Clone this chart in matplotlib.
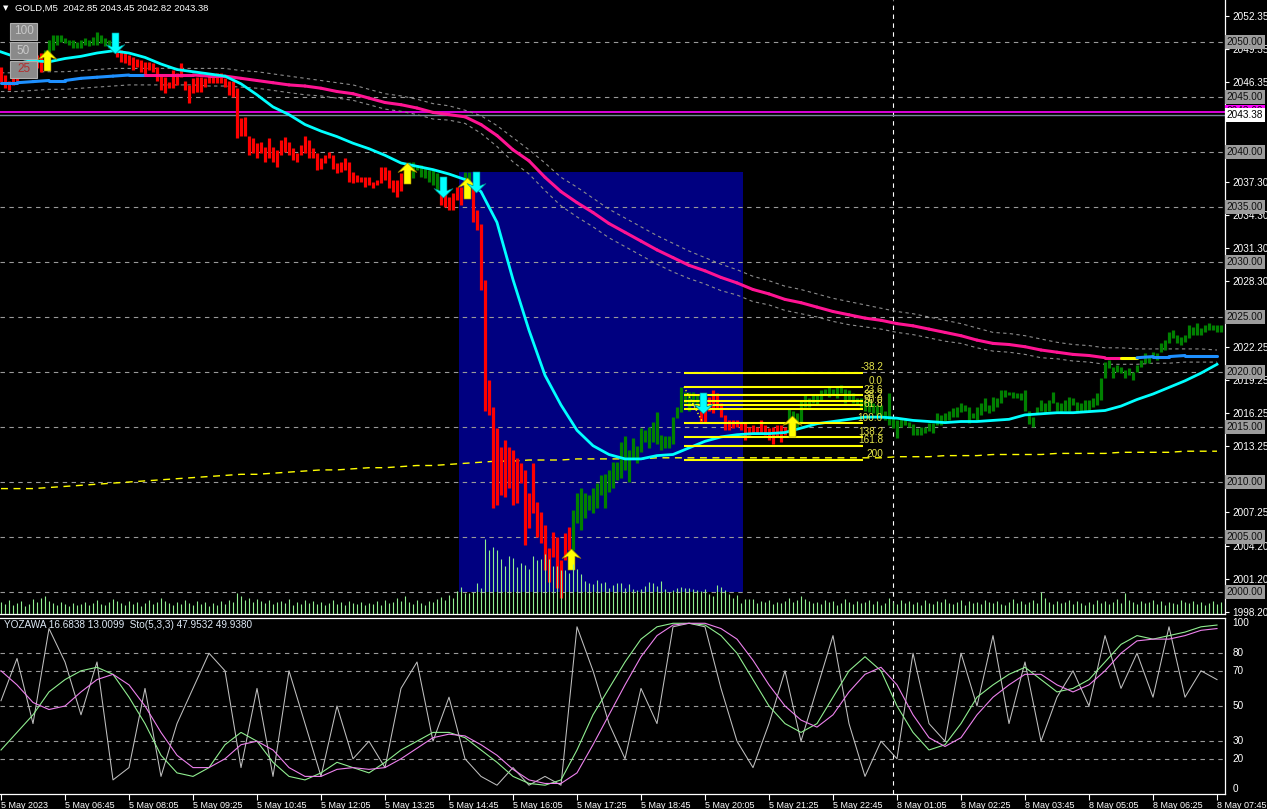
import numpy as np
import matplotlib.pyplot as plt
from matplotlib.path import Path
from matplotlib.patches import Rectangle
from matplotlib.collections import LineCollection
import matplotlib.transforms as mtransforms

plt.rcParams['font.family'] = ['Liberation Sans', 'DejaVu Sans']

W, H = 1267, 809

# ---------------- data ----------------
# drawn extent (top / bottom) of every M5 bar
bar_hi = [
    2047.7, 2047.0, 2046.5, 2047.5, 2047.9, 2047.6, 2048.4, 2048.2, 2048.4, 2048.8,
    2049.0, 2049.3, 2050.2, 2050.6, 2050.6, 2050.6, 2050.4, 2050.2, 2050.2, 2050.0,
    2050.2, 2050.4, 2050.2, 2050.5, 2050.9, 2050.6, 2050.4, 2050.2, 2050.0, 2049.5,
    2049.3, 2049.1, 2048.8, 2048.6, 2048.5, 2048.4, 2048.2, 2048.2, 2048.1, 2047.7,
    2047.0, 2046.8, 2046.4, 2047.5, 2047.2, 2048.1, 2046.5, 2046.1, 2046.7, 2046.8,
    2046.8, 2046.7, 2047.0, 2047.0, 2047.2, 2047.2, 2046.7, 2046.5, 2046.5, 2045.8,
    2043.1, 2043.2, 2041.5, 2041.3, 2040.8, 2040.9, 2040.5, 2041.3, 2040.5, 2040.2,
    2041.1, 2041.4, 2040.9, 2040.4, 2039.9, 2040.6, 2041.5, 2041.1, 2040.4, 2039.9,
    2039.5, 2039.7, 2040.0, 2039.7, 2039.0, 2039.1, 2039.5, 2039.1, 2038.2, 2037.9,
    2037.7, 2037.7, 2037.7, 2037.3, 2037.5, 2038.6, 2038.6, 2038.4, 2037.5, 2037.5,
    2038.1, 2038.6, 2039.1, 2039.1, 2038.8, 2038.8, 2038.6, 2038.4, 2038.4, 2038.1,
    2036.3, 2036.7, 2035.9, 2036.3, 2036.8, 2036.8, 2038.2, 2038.2, 2037.0, 2034.7,
    2033.5, 2028.4, 2019.3, 2016.8, 2014.9, 2013.2, 2013.8, 2013.2, 2012.9, 2012.2,
    2011.7, 2011.1, 2009.0, 2011.7, 2008.2, 2007.3, 2006.1, 2004.0, 2005.5, 2005.0,
    2002.9, 2005.4, 2005.9, 2007.5, 2009.0, 2009.5, 2009.0, 2008.8, 2009.5, 2009.9,
    2010.6, 2010.7, 2011.1, 2011.8, 2011.8, 2013.6, 2014.2, 2012.9, 2014.0, 2013.3,
    2014.9, 2014.7, 2015.0, 2015.5, 2016.4, 2014.3, 2014.2, 2014.2, 2015.9, 2016.8,
    2018.6, 2018.2, 2018.2, 2018.2, 2017.9, 2016.5, 2017.3, 2017.7, 2018.4, 2018.1,
    2017.2, 2016.1, 2015.6, 2015.6, 2015.6, 2015.5, 2015.5, 2015.0, 2015.2, 2015.0,
    2015.6, 2015.2, 2014.9, 2015.0, 2015.2, 2015.2, 2015.0, 2016.7, 2016.5, 2016.3,
    2017.5, 2017.9, 2017.6, 2017.9, 2017.9, 2018.4, 2018.5, 2018.6, 2018.5, 2018.6,
    2018.8, 2018.5, 2018.4, 2018.1, 2017.6, 2017.6, 2017.5, 2017.5, 2017.2, 2017.0,
    2017.0, 2016.5, 2018.1, 2015.9, 2015.6, 2015.7, 2015.8, 2015.5, 2015.3, 2014.9,
    2015.0, 2015.0, 2015.4, 2015.4, 2016.3, 2016.1, 2016.3, 2016.5, 2016.7, 2016.8,
    2017.2, 2017.0, 2016.8, 2016.3, 2016.8, 2017.2, 2017.6, 2017.0, 2017.7, 2017.6,
    2018.4, 2018.4, 2018.2, 2018.2, 2018.1, 2018.1, 2018.4, 2016.5, 2015.9, 2016.8,
    2017.5, 2017.2, 2017.5, 2018.2, 2017.3, 2017.2, 2017.5, 2017.7, 2017.6, 2017.3,
    2017.2, 2017.5, 2017.5, 2017.6, 2018.1, 2019.5, 2020.9, 2021.1, 2020.5, 2020.6,
    2020.5, 2020.2, 2020.4, 2020.0, 2020.6, 2021.1, 2021.7, 2021.5, 2021.8, 2021.7,
    2022.6, 2022.9, 2023.6, 2023.8, 2023.4, 2023.2, 2023.4, 2024.3, 2024.1, 2024.5,
    2024.0, 2024.3, 2024.5, 2024.3, 2024.3, 2024.3,
]
bar_lo = [
    2046.4, 2045.8, 2045.6, 2046.1, 2046.5, 2046.7, 2047.0, 2047.3, 2047.5, 2047.6,
    2047.3, 2048.2, 2049.0, 2049.3, 2049.7, 2050.0, 2049.9, 2049.7, 2049.5, 2049.5,
    2049.5, 2049.7, 2049.6, 2049.7, 2049.7, 2049.9, 2049.6, 2049.5, 2049.3, 2048.6,
    2048.2, 2048.1, 2047.9, 2047.5, 2047.7, 2047.3, 2047.0, 2047.5, 2047.3, 2046.5,
    2045.6, 2045.4, 2045.8, 2045.8, 2046.1, 2046.8, 2045.6, 2044.5, 2045.4, 2045.5,
    2045.5, 2045.9, 2046.3, 2046.3, 2046.3, 2046.3, 2045.9, 2045.2, 2045.0, 2041.3,
    2041.5, 2041.5, 2039.7, 2039.9, 2039.5, 2039.9, 2039.1, 2039.5, 2039.1, 2038.6,
    2039.7, 2040.0, 2039.7, 2039.3, 2039.1, 2039.7, 2039.9, 2039.5, 2039.5, 2038.4,
    2038.5, 2039.0, 2039.5, 2038.5, 2038.1, 2038.2, 2038.4, 2037.3, 2037.2, 2037.3,
    2037.3, 2036.8, 2037.0, 2036.7, 2037.0, 2037.2, 2037.5, 2036.7, 2036.4, 2035.9,
    2036.5, 2037.2, 2038.4, 2037.6, 2038.4, 2037.7, 2037.6, 2037.3, 2037.0, 2036.5,
    2035.2, 2035.0, 2034.7, 2034.7, 2035.6, 2035.2, 2036.1, 2036.5, 2033.6, 2032.9,
    2027.5, 2016.5, 2016.1, 2007.6, 2007.9, 2008.8, 2008.6, 2009.5, 2007.9, 2008.1,
    2009.9, 2004.3, 2005.8, 2007.2, 2005.0, 2004.5, 2002.0, 2000.9, 2003.2, 2000.4,
    1999.5, 2002.9, 2003.8, 2003.8, 2006.3, 2005.6, 2006.7, 2007.5, 2007.2, 2007.6,
    2008.8, 2007.6, 2009.1, 2009.5, 2010.2, 2010.4, 2011.1, 2010.0, 2012.2, 2011.7,
    2012.7, 2013.6, 2013.1, 2013.6, 2013.5, 2012.9, 2013.1, 2013.1, 2013.5, 2015.8,
    2016.4, 2017.2, 2016.5, 2017.2, 2016.7, 2015.4, 2015.4, 2016.5, 2016.3, 2016.7,
    2015.9, 2014.7, 2014.7, 2014.9, 2015.0, 2014.7, 2013.8, 2014.3, 2014.5, 2014.4,
    2014.5, 2014.3, 2013.8, 2013.5, 2014.1, 2013.6, 2014.3, 2014.5, 2015.0, 2015.0,
    2015.4, 2016.8, 2016.8, 2017.2, 2017.0, 2017.5, 2017.9, 2017.7, 2017.9, 2017.6,
    2018.1, 2017.2, 2017.5, 2017.2, 2017.0, 2016.8, 2016.5, 2016.4, 2016.3, 2016.1,
    2015.8, 2015.6, 2015.2, 2014.9, 2014.0, 2015.0, 2015.2, 2015.0, 2014.3, 2014.3,
    2014.3, 2014.5, 2014.6, 2014.5, 2015.2, 2015.2, 2015.4, 2015.6, 2015.9, 2015.9,
    2016.4, 2016.5, 2015.4, 2015.8, 2015.6, 2016.1, 2016.5, 2016.3, 2016.5, 2016.8,
    2017.2, 2017.7, 2017.9, 2017.6, 2017.6, 2017.5, 2016.5, 2015.3, 2015.0, 2016.3,
    2016.5, 2016.4, 2016.5, 2017.2, 2016.5, 2016.4, 2016.5, 2016.5, 2017.0, 2016.4,
    2016.4, 2016.5, 2016.5, 2016.8, 2017.0, 2017.5, 2019.5, 2020.4, 2019.5, 2020.0,
    2019.9, 2019.5, 2019.7, 2019.3, 2020.0, 2020.5, 2020.8, 2020.8, 2021.3, 2021.1,
    2021.8, 2022.0, 2022.6, 2023.1, 2022.6, 2022.5, 2022.7, 2023.1, 2023.4, 2023.4,
    2023.4, 2023.6, 2023.8, 2023.8, 2023.6, 2023.6,
]
# trend state of the bar colouring indicator (u = up, d = down)
trend = 'd' * 11 + 'u' * 18 + 'd' * 73 + 'u' * 8 + 'd' * 6 + 'u' * 2 + 'd' * 25 + 'u' * 32 + 'd' * 22 + 'u' * 109

volume = [
    12, 10, 14, 9, 11, 13, 8, 10, 15, 12, 16, 18, 13, 11, 9, 12, 10, 8, 11, 9,
    10, 12, 9, 11, 14, 10, 9, 12, 15, 13, 11, 9, 13, 10, 12, 8, 11, 14, 10, 12,
    16, 13, 11, 9, 12, 10, 14, 11, 9, 13, 10, 12, 8, 11, 9, 13, 10, 14, 12, 21,
    18, 14, 16, 12, 15, 13, 11, 14, 10, 12, 13, 11, 15, 9, 12, 10, 14, 11, 13, 10,
    12, 9, 11, 14, 10, 12, 9, 13, 11, 10, 12, 9, 11, 10, 13, 9, 14, 11, 12, 16,
    13, 18, 12, 10, 14, 11, 9, 13, 12, 15, 17, 14, 19, 16, 23,
    27, 21, 21, 22, 31, 26, 75, 64, 67, 64, 55, 48, 58, 56, 47, 51, 49, 45, 58, 54,
    55, 60, 55, 48, 48, 44, 44, 41, 50, 45, 40, 33, 31, 30, 34, 31, 32, 26, 29, 31,
    31, 26, 30, 25, 24, 25, 28, 32, 31, 28, 33, 25, 22, 24, 26, 27, 26, 26, 25, 24,
    23, 25, 20, 18, 29, 27, 24, 20, 16, 19, 11,
    15, 15, 15, 11, 13, 12, 14, 10, 12, 11, 13, 16, 12, 14, 18, 15, 13, 11, 12, 10,
    14, 12, 13, 9, 11, 15, 12, 10, 13, 11, 12, 14, 10, 13, 9, 11, 16, 12, 10, 14,
    11, 13, 10, 12, 9, 14, 11, 10, 13, 12, 15, 11, 10, 12, 14, 9, 13, 11, 12, 10,
    14, 12, 11, 13, 10, 9, 12, 15, 11, 13, 10, 12, 14, 11, 22, 16, 12, 10, 13, 11,
    12, 14, 10, 13, 11, 9, 12, 10, 14, 11, 13, 10, 12, 15, 11, 21, 14, 12, 10, 13,
    11, 12, 14, 10, 13, 9, 12, 11, 10, 14, 12, 11, 13, 10, 12, 9, 11, 13, 10, 12,
]

# indicator values, read every 4th bar
ind_step = 4
fast_ma = [
    2049.1, 2048.6, 2048.3, 2048.2, 2048.5, 2048.7, 2049.0, 2049.2, 2049.0, 2048.6,
    2048.0, 2047.5, 2047.3, 2047.1, 2046.9, 2046.2, 2045.2, 2044.1, 2043.4, 2042.5,
    2041.9, 2041.4, 2040.8, 2040.3, 2039.7, 2039.0, 2038.7, 2038.4, 2038.0, 2037.5,
    2036.4, 2033.6, 2028.4, 2023.8, 2019.7, 2017.0, 2014.7, 2013.3, 2012.5, 2012.1,
    2012.1, 2012.4, 2012.5, 2013.1, 2013.7, 2014.1, 2014.3, 2014.4, 2014.4, 2014.5,
    2014.9, 2015.3, 2015.5, 2015.7, 2015.9, 2015.9, 2015.8, 2015.6, 2015.5, 2015.4,
    2015.5, 2015.5, 2015.6, 2015.7, 2016.1, 2016.2, 2016.3, 2016.3, 2016.4, 2016.5,
    2016.9, 2017.5, 2018.0, 2018.6, 2019.2, 2019.9, 2020.7,
]
slow_ma = [
    2046.3, 2046.3, 2046.4, 2046.5, 2046.5, 2046.7, 2046.8, 2046.9, 2047.0, 2047.0,
    2047.0, 2047.0, 2047.0, 2046.9, 2046.9, 2046.7, 2046.5, 2046.3, 2046.1, 2046.0,
    2045.8, 2045.5, 2045.3, 2044.9, 2044.5, 2044.3, 2044.0, 2043.6, 2043.4, 2043.2,
    2042.5, 2041.5, 2040.2, 2039.2, 2037.7, 2036.4, 2035.4, 2034.5, 2033.5, 2032.7,
    2031.9, 2031.1, 2030.4, 2029.7, 2029.2, 2028.6, 2028.1, 2027.5, 2027.1, 2026.6,
    2026.3, 2025.9, 2025.5, 2025.2, 2024.9, 2024.7, 2024.4, 2024.2, 2023.9, 2023.6,
    2023.3, 2022.9, 2022.6, 2022.5, 2022.3, 2022.0, 2021.8, 2021.6, 2021.5, 2021.3,
    2021.3, 2021.3, 2021.4, 2021.4, 2021.5, 2021.5, 2021.5,
]
slow_state = 'b' * 10 + 'p' * 61 + 'y' + 'b' * 5
band_up = [
    0.9, 0.9, 0.9, 0.8, 0.8, 0.7, 0.7, 0.7, 0.6, 0.6, 0.6, 0.6, 0.6, 0.7, 0.7, 0.7, 0.8, 0.8, 0.8, 0.7,
    0.7, 0.8, 0.8, 0.8, 0.8, 0.8, 0.8, 0.8, 0.8, 0.6, 0.8, 0.9, 1.1, 1.0, 1.3, 1.3, 1.4, 1.3, 1.3, 1.3,
    1.3, 1.3, 1.3, 1.3, 1.2, 1.2, 1.2, 1.2, 1.2, 1.2, 1.2, 1.2, 1.2, 1.2, 1.2, 1.1, 1.1, 1.1, 1.1, 1.1,
    1.1, 1.1, 1.0, 1.0, 1.0, 1.0, 0.9, 0.9, 0.9, 0.9, 0.9, 0.8, 0.7, 0.7, 0.6, 0.6, 0.5,
]
band_dn = [
    0.8, 0.8, 0.8, 0.8, 0.8, 0.9, 0.9, 0.9, 0.9, 0.9, 0.9, 0.9, 0.9, 0.9, 0.9, 0.8, 0.7, 0.7, 0.7, 0.8,
    0.7, 0.6, 0.6, 0.6, 0.6, 0.6, 0.6, 0.6, 0.5, 0.6, 0.8, 1.0, 1.1, 1.2, 1.2, 1.3, 1.3, 1.3, 1.3, 1.3,
    1.3, 1.3, 1.3, 1.2, 1.2, 1.2, 1.1, 1.1, 1.0, 1.0, 1.0, 0.9, 0.9, 0.9, 0.8, 0.8, 0.8, 0.8, 0.8, 0.8,
    0.7, 0.7, 0.7, 0.7, 0.7, 0.7, 0.6, 0.6, 0.6, 0.6, 0.6, 0.6, 0.6, 0.6, 0.6, 0.6, 0.6,
]
long_ma = [
    2009.4, 2009.4, 2009.4, 2009.5, 2009.6, 2009.7, 2009.8, 2009.9, 2010.0, 2010.1,
    2010.2, 2010.3, 2010.4, 2010.5, 2010.6, 2010.7, 2010.7, 2010.8, 2010.9, 2011.0,
    2011.1, 2011.1, 2011.2, 2011.3, 2011.3, 2011.4, 2011.5, 2011.5, 2011.6, 2011.7,
    2011.8, 2011.9, 2011.9, 2012.0, 2012.0, 2012.0, 2012.1, 2012.1, 2012.1, 2012.1,
    2012.1, 2012.2, 2012.2, 2012.2, 2012.2, 2012.2, 2012.2, 2012.2, 2012.2, 2012.2,
    2012.2, 2012.2, 2012.2, 2012.2, 2012.2, 2012.2, 2012.3, 2012.3, 2012.3, 2012.4,
    2012.4, 2012.4, 2012.5, 2012.5, 2012.5, 2012.5, 2012.6, 2012.6, 2012.6, 2012.6,
    2012.7, 2012.7, 2012.7, 2012.7, 2012.8, 2012.8, 2012.8,
]

# lower window (YOZAWA / Stochastic), read every 4th bar
osc_gray = [
    53, 77, 40, 94, 75, 45, 75, 8, 15, 60, 10, 40, 60, 80, 70, 15, 60, 10, 70, 40,
    10, 50, 20, 30, 15, 60, 75, 30, 55, 20, 10, 5, 15, 5, 10, 5, 95, 70, 40, 20,
    60, 40, 95, 97, 95, 60, 30, 15, 40, 70, 30, 60, 90, 40, 10, 30, 20, 80, 40, 30,
    80, 50, 90, 40, 75, 30, 55, 70, 50, 90, 60, 80, 55, 95, 55, 70, 65,
]
osc_green = [
    25, 35, 45, 58, 65, 70, 72, 68, 55, 40, 22, 12, 10, 15, 28, 35, 30, 18, 10, 8,
    12, 18, 15, 12, 18, 25, 30, 35, 35, 32, 25, 18, 10, 6, 5, 8, 25, 45, 60, 75,
    88, 95, 97, 97, 96, 90, 80, 65, 50, 40, 35, 40, 55, 70, 78, 70, 50, 35, 25, 28,
    40, 55, 62, 68, 72, 65, 58, 60, 65, 75, 85, 90, 88, 90, 92, 95, 96,
]
osc_violet = [
    70, 62, 52, 48, 50, 58, 65, 68, 62, 50, 35, 22, 15, 15, 20, 28, 30, 25, 15, 10,
    10, 14, 15, 14, 15, 20, 26, 32, 34, 33, 28, 22, 14, 8, 6, 6, 12, 28, 45, 62,
    78, 90, 96, 97, 97, 94, 88, 76, 62, 50, 42, 38, 45, 58, 68, 72, 62, 45, 32, 27,
    32, 45, 55, 62, 68, 68, 62, 58, 62, 70, 80, 87, 88, 88, 90, 93, 94,
]
osc_levels = [20, 30, 50, 70, 80]

# signal arrows (bar index, price)
buy_idx = [11.5, 101.5, 116.5, 142.5, 197.75]
buy_px = [2048.4, 2038.1, 2036.7, 2003.0, 2015.1]
sell_idx = [28.5, 110.5, 118.75, 175.5]
sell_px = [2049.9, 2036.8, 2037.3, 2017.2]

# objects
fib_t0, fib_t1 = 170.75, 215.5
fib_p0, fib_p100 = 2018.66, 2015.33
fib_levels = [-38.2, 0.0, 23.6, 38.2, 50.0, 61.8, 100.0, 138.2, 161.8, 200.0]
fib_labels = ['-38.2', '0.0', '23.6', '38.2', '50.0', '61.8', '100.0', '138.2', '161.8', '200']
box_t0, box_t1 = 114.5, 185.5
box_lo, box_hi = 2000.0, 2038.2
level_prices = [2000, 2005, 2010, 2015, 2020, 2025, 2030, 2035, 2040, 2045, 2050]
bid = 2043.38
alert_price = 2043.6
separator_idx = 223

price_ticks = [1998.20, 2001.20, 2004.20, 2007.25, 2013.25, 2016.25, 2019.25, 2022.25,
               2028.30, 2031.30, 2034.30, 2037.30, 2046.35, 2049.35, 2052.35]
time_labels = ['5 May 2023', '5 May 06:45', '5 May 08:05', '5 May 09:25', '5 May 10:45',
               '5 May 12:05', '5 May 13:25', '5 May 14:45', '5 May 16:05', '5 May 17:25',
               '5 May 18:45', '5 May 20:05', '5 May 21:25', '5 May 22:45', '8 May 01:05',
               '8 May 02:25', '8 May 03:45', '8 May 05:05', '8 May 06:25', '8 May 07:45']

# ---------------- figure ----------------
fig = plt.figure(figsize=(W / 100, H / 100), dpi=100, facecolor='black')

def fx(px):
    return px / W

def fy(py):
    return 1 - py / H

ax = fig.add_axes([0, fy(614), fx(1225), 614 / H])
ax2 = fig.add_axes([0, fy(794), fx(1225), 176 / H], sharex=ax)

for a in (ax, ax2):
    a.set_facecolor('black')
    a.spines['left'].set_visible(False)
    for s in ('top', 'right', 'bottom'):
        a.spines[s].set_color('white')
        a.spines[s].set_linewidth(0.9)
ax.spines['top'].set_visible(False)

ax.set_xlim(-0.25, 306)
ax.set_ylim(1998.0, 2053.82)
ax2.set_ylim(0, 100)

WHITE_TXT = '#FFFFFF'
FS = 7.2

# level lines and separators
ax.hlines(level_prices, -0.25, 306, colors='#9A9A9A', linestyles=(0, (4, 4)), lw=0.8, zorder=1)
ax.axvline(separator_idx, color='white', ls=(0, (4, 4)), lw=0.8, zorder=1)
ax2.axvline(separator_idx, color='white', ls=(0, (4, 4)), lw=0.8, zorder=1)
ax.axhline(alert_price, color='#FF00FF', lw=1.2, zorder=2)
ax.axhline(bid, color='#778899', lw=1.0, zorder=2)

# rectangle object
ax.add_patch(Rectangle((box_t0, box_lo), box_t1 - box_t0, box_hi - box_lo,
                       fc='#000080', ec='none', zorder=0.5))

# bars
idx = np.arange(len(bar_hi))
colors = ['#008000' if t == 'u' else '#FF0000' for t in trend[:len(idx)]]
ax.vlines(idx, bar_lo, bar_hi, colors=colors, lw=2.3, zorder=3)

# indicators
ind_x = np.arange(len(fast_ma)) * ind_step
slow = np.array(slow_ma)
sx = np.arange(len(slow)) * ind_step
ax.plot(sx, slow + np.array(band_up), color='#8C8C8C', ls=(0, (3, 3)), lw=0.8, zorder=2)
ax.plot(sx, slow - np.array(band_dn), color='#8C8C8C', ls=(0, (3, 3)), lw=0.8, zorder=2)
ax.plot(np.arange(len(long_ma)) * ind_step, long_ma, color='#FFFF00', ls=(0, (5, 4)),
        lw=1.0, zorder=2)

state_col = {'b': '#1E90FF', 'p': '#FF1493', 'y': '#FFFF00'}
segs = [[(sx[k], slow[k]), (sx[k + 1], slow[k + 1])] for k in range(len(slow) - 1)]
seg_cols = [state_col[slow_state[k + 1]] for k in range(len(slow) - 1)]
ax.add_collection(LineCollection(segs, colors=seg_cols, lw=2.2, zorder=4, capstyle='round'))
ax.plot(ind_x, fast_ma, color='#00FFFF', lw=2.0, zorder=4)

# fibonacci
fib_px = [fib_p0 - lv / 100 * (fib_p0 - fib_p100) for lv in fib_levels]
ax.hlines(fib_px, fib_t0, fib_t1, colors='#FFFF00', lw=1.5, zorder=5)
ax.plot([fib_t0, fib_t0 + 4.8], [fib_p0, fib_p100], color='#FFFF00', ls=':', lw=1.0, zorder=5)
for p, lab in zip(fib_px, fib_labels):
    ax.text(220.5, p + 0.05, lab, ha='right', va='bottom', color='#E6E64A', fontsize=FS, zorder=6)

# arrows
up = Path([(0, 1), (0.9, 0.1), (0.33, 0.3), (0.33, -1), (-0.33, -1), (-0.33, 0.3), (-0.9, 0.1), (0, 1)],
          [Path.MOVETO] + [Path.LINETO] * 6 + [Path.CLOSEPOLY])
down = Path([(x, -y) for x, y in up.vertices], up.codes)
ax.scatter(buy_idx, buy_px, marker=up, s=230, c='#FFFF00', edgecolors='#A08000', linewidths=0.4, zorder=7)
ax.scatter(sell_idx, sell_px, marker=down, s=230, c='#00FFFF', edgecolors='#008080', linewidths=0.4, zorder=7)

# volume
axv = ax.twinx()
axv.set_ylim(0, 614)
axv.vlines(np.arange(len(volume)), 0, volume, colors='#90EE90', lw=0.8)
axv.set_axis_off()

# price scale
ax.yaxis.tick_right()
ax.set_yticks(price_ticks)
ax.set_yticklabels(['%.2f' % v for v in price_ticks])
ax.tick_params(axis='y', colors='white', labelcolor=WHITE_TXT, labelsize=FS, length=3, width=0.8, pad=2)
ax.tick_params(axis='x', bottom=False, labelbottom=False)

ytrans = mtransforms.blended_transform_factory(ax.transAxes, ax.transData)
for lv in level_prices:
    ax.text(1.0012, lv, '%.2f' % lv, transform=ytrans, ha='left', va='center', fontsize=FS, color='#101010',
            bbox=dict(boxstyle='square,pad=0.18', fc='#9C9C9C', ec='none'), clip_on=False, zorder=8)
ax.text(1.0012, alert_price + 0.1, '%.2f' % alert_price, transform=ytrans, ha='left', va='center', fontsize=FS,
        color='#101010', bbox=dict(boxstyle='square,pad=0.18', fc='#FF00FF', ec='none'), clip_on=False, zorder=8)
ax.text(1.0012, bid, '%.2f' % bid, transform=ytrans, ha='left', va='center', fontsize=FS, color='black',
        bbox=dict(boxstyle='square,pad=0.18', fc='white', ec='none'), clip_on=False, zorder=9)

# lower window
ax2.hlines(osc_levels, -0.25, 306, colors='#9A9A9A', linestyles=(0, (4, 4)), lw=0.8, zorder=1)
ox = np.arange(len(osc_gray)) * ind_step
ax2.plot(ox, osc_gray, color='#C0C0C0', lw=0.75, zorder=2)
ax2.plot(np.arange(len(osc_green)) * ind_step, osc_green, color='#90EE90', lw=0.8, zorder=3)
ax2.plot(np.arange(len(osc_violet)) * ind_step, osc_violet, color='#EE82EE', lw=0.8, zorder=3)
ax2.set_yticks([])
y2trans = mtransforms.blended_transform_factory(ax2.transAxes, ax2.transData)
for v in [100, 80, 70, 50, 30, 20, 0]:
    va = 'top' if v == 100 else ('bottom' if v == 0 else 'center')
    ax2.text(1.006, v, str(v), transform=y2trans, ha='left', va=va, fontsize=FS, color=WHITE_TXT, clip_on=False)

ax2.set_xticks(np.arange(len(time_labels)) * 16)
ax2.set_xticklabels(time_labels, ha='left')
ax2.tick_params(axis='x', colors='white', labelcolor=WHITE_TXT, labelsize=6.5, length=4, width=0.8, pad=1)

# header texts and buttons
fig.text(fx(3), fy(8), '\u25BC', color='white', fontsize=5, va='center', family='DejaVu Sans')
fig.text(fx(15), fy(8), 'GOLD,M5  2042.85 2043.45 2042.82 2043.38', color='white', fontsize=6.8, va='center')
fig.text(fx(4), fy(625), 'YOZAWA 16.6838 13.0099  Sto(5,3,3) 47.9532 49.9380', color='#DDE8F5',
         fontsize=FS, va='center')
for i, (lab, tc) in enumerate([('100', '#C8C8C8'), ('50', '#C8C8C8'), ('25', '#B03030')]):
    top = 23 + i * 19
    fig.patches.append(Rectangle((fx(10), fy(top + 17)), 27 / W, 17 / H, transform=fig.transFigure,
                                 fc='#8A8A8A', ec='#B0B0B0', lw=0.8))
    fig.text(fx(23.5), fy(top + 8.5), lab, color=tc, fontsize=8.5, ha='center', va='center')

fig.savefig('out.png', dpi=100, facecolor='black')
